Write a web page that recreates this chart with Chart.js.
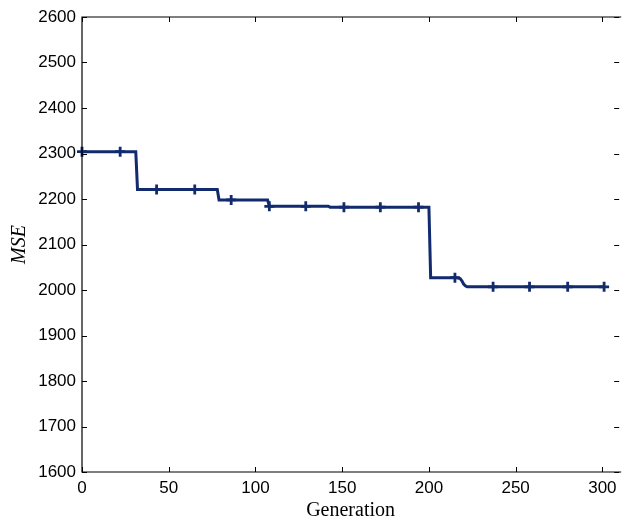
<!DOCTYPE html>
<html>
<head>
<meta charset="utf-8">
<script src="https://cdn.jsdelivr.net/npm/chart.js@4"></script>
<style>
  html, body { margin: 0; padding: 0; background: #fff; overflow: hidden; }
</style>
</head>
<body>
<canvas id="chart1" width="627" height="523"></canvas>
<script>
// step curve of best MSE per generation (only the corners)
const generations = [0, 31, 32, 78, 79, 107, 108, 142, 143, 200, 201, 216, 218, 219, 220, 221, 222, 301];
const mse = [2304, 2304, 2221, 2221, 2198, 2198, 2184, 2184, 2182, 2182, 2027, 2027, 2025, 2020, 2013, 2009, 2007, 2007];

// '+' markers
const markGen = [0, 22, 43, 65, 86, 108, 129, 151, 172, 194, 215, 237, 258, 280, 301];
const markMse = [2304, 2304, 2221, 2221, 2198, 2184, 2184, 2182, 2182, 2182, 2027, 2007, 2007, 2007, 2007];

const xTicks = [0, 50, 100, 150, 200, 250, 300];
const yTicks = [1600, 1700, 1800, 1900, 2000, 2100, 2200, 2300, 2400, 2500, 2600];

const navy = "#112b6e";

const linePts = generations.map((g, i) => ({ x: g, y: mse[i] }));
const markPts = markGen.map((g, i) => ({ x: g, y: markMse[i] }));

// matlab style box with inward ticks (right edge of the box is cut off)
const boxTicks = {
  id: "boxTicks",
  afterDraw(chart) {
    const c = chart.ctx;
    const a = chart.chartArea;
    const sx = chart.scales.x, sy = chart.scales.y;
    c.save();
    c.strokeStyle = "#000";
    c.lineWidth = 1.2;
    c.beginPath();
    c.moveTo(a.right + 2, a.top); c.lineTo(a.left, a.top);
    c.lineTo(a.left, a.bottom); c.lineTo(a.right + 2, a.bottom);
    c.stroke();
    c.lineWidth = 1;
    c.beginPath();
    xTicks.forEach(v => {
      const px = Math.round(sx.getPixelForValue(v)) + 0.5;
      c.moveTo(px, a.bottom); c.lineTo(px, a.bottom - 5);
      c.moveTo(px, a.top); c.lineTo(px, a.top + 5);
    });
    yTicks.forEach(v => {
      const py = Math.round(sy.getPixelForValue(v)) + 0.5;
      c.moveTo(a.left, py); c.lineTo(a.left + 5, py);
      c.moveTo(a.right, py); c.lineTo(a.right - 5, py);
    });
    c.stroke();
    c.restore();
  }
};

const ctx = document.getElementById("chart1").getContext("2d");
new Chart(ctx, {
  type: "line",
  data: {
    datasets: [
      {
        data: linePts,
        borderColor: navy,
        borderWidth: 3,
        pointRadius: 0,
        tension: 0,
        clip: false
      },
      {
        data: markPts,
        showLine: false,
        clip: false,
        pointStyle: "cross",
        pointRadius: 5,
        pointBorderWidth: 2.8,
        pointBorderColor: navy,
        pointBackgroundColor: navy
      }
    ]
  },
  options: {
    responsive: false,
    animation: false,
    layout: { padding: { top: 17, right: 0, left: 0, bottom: 0 } },
    plugins: { legend: { display: false }, tooltip: { enabled: false } },
    scales: {
      x: {
        type: "linear",
        min: 0,
        max: 309.7,
        afterFit: s => { s.height = 51; },
        afterBuildTicks: s => { s.ticks = xTicks.map(v => ({ value: v })); },
        grid: { display: false, drawTicks: false },
        border: { display: false },
        ticks: {
          color: "#000",
          padding: 6,
          maxRotation: 0,
          callback: v => String(v),
          font: { family: "'Liberation Sans', Arial, sans-serif", size: 17 }
        },
        title: {
          display: true,
          text: "Generation",
          color: "#000",
          padding: { top: 0, bottom: 0 },
          font: { family: "'Liberation Serif', 'DejaVu Serif', serif", size: 20 }
        }
      },
      y: {
        min: 1600,
        max: 2600,
        afterFit: s => { s.width = 82; },
        afterBuildTicks: s => { s.ticks = yTicks.map(v => ({ value: v })); },
        grid: { display: false, drawTicks: false },
        border: { display: false },
        ticks: {
          color: "#000",
          padding: 6,
          callback: v => String(v),
          font: { family: "'Liberation Sans', Arial, sans-serif", size: 17 }
        },
        title: {
          display: true,
          text: "MSE",
          color: "#000",
          padding: { top: 8, bottom: 0 },
          font: { family: "'Liberation Serif', 'DejaVu Serif', serif", size: 20, style: "italic" }
        }
      }
    }
  },
  plugins: [boxTicks]
});
</script>
</body>
</html>
